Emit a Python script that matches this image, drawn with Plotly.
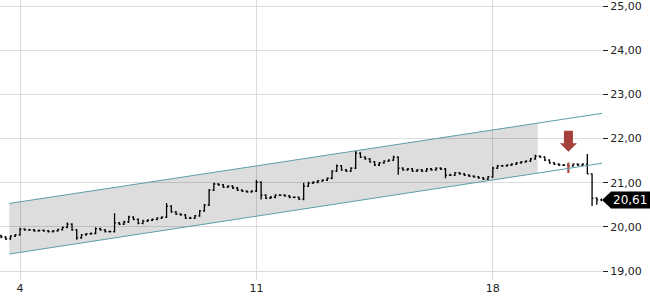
import plotly.graph_objects as go

# ---- data ----
tick_vals = [4, 54, 104]
tick_text = ["4", "11", "18"]

open_ = [19.80,19.77,19.73,19.79,19.82,19.95,19.93,19.93,19.91,19.92,
         19.91,19.89,19.91,19.94,19.99,20.06,19.93,19.75,19.82,19.84,
         19.85,19.96,19.93,19.89,19.89,20.09,20.06,20.11,20.22,20.17,
         20.08,20.13,20.15,20.17,20.20,20.22,20.47,20.34,20.29,20.27,
         20.20,20.20,20.25,20.36,20.49,20.83,20.97,20.95,20.90,20.92,
         20.88,20.83,20.81,20.79,20.81,21.01,20.72,20.65,20.67,20.72,
         20.72,20.70,20.67,20.67,20.63,20.92,20.99,21.01,21.04,21.06,
         21.10,21.26,21.38,21.29,21.26,21.33,21.67,21.58,21.54,21.47,
         21.40,21.45,21.49,21.51,21.58,21.33,21.29,21.31,21.26,21.29,
         21.26,21.31,21.29,21.33,21.31,21.17,21.17,21.22,21.20,21.17,
         21.15,21.13,21.11,21.08,21.13,21.33,21.38,21.38,21.40,21.42,
         21.45,21.47,21.49,21.54,21.60,21.58,21.51,21.45,21.42,21.40,
         21.40,21.38,21.42,21.40,21.42,21.20,20.65,20.61]
close = [19.77,19.73,19.79,19.82,19.95,19.93,19.93,19.91,19.92,19.91,
         19.89,19.91,19.94,19.99,20.06,19.93,19.75,19.82,19.84,19.85,
         19.96,19.93,19.89,19.89,20.09,20.06,20.11,20.22,20.17,20.08,
         20.13,20.15,20.17,20.20,20.22,20.47,20.34,20.29,20.27,20.20,
         20.20,20.25,20.36,20.49,20.83,20.97,20.95,20.90,20.92,20.88,
         20.83,20.81,20.79,20.81,21.01,20.72,20.65,20.67,20.72,20.72,
         20.70,20.67,20.67,20.63,20.92,20.99,21.01,21.04,21.06,21.10,
         21.26,21.38,21.29,21.26,21.33,21.67,21.58,21.54,21.47,21.40,
         21.45,21.49,21.51,21.58,21.33,21.29,21.31,21.26,21.29,21.26,
         21.31,21.29,21.33,21.31,21.17,21.17,21.22,21.20,21.17,21.15,
         21.13,21.11,21.08,21.13,21.33,21.38,21.38,21.40,21.42,21.45,
         21.47,21.49,21.54,21.60,21.58,21.51,21.45,21.42,21.40,21.40,
         21.38,21.42,21.40,21.42,21.20,20.65,20.61,20.61]
high = [19.82,19.79,19.81,19.84,19.98,19.97,19.95,19.95,19.94,19.94,
        19.93,19.93,19.96,20.01,20.10,20.08,19.95,19.84,19.86,19.87,
        19.99,19.98,19.95,19.92,20.31,20.11,20.14,20.25,20.24,20.19,
        20.16,20.17,20.19,20.22,20.24,20.54,20.49,20.36,20.31,20.29,
        20.23,20.27,20.38,20.52,20.86,21.00,20.99,20.97,20.94,20.94,
        20.90,20.85,20.83,20.83,21.06,21.03,20.74,20.70,20.74,20.74,
        20.74,20.72,20.69,20.69,21.00,21.02,21.03,21.06,21.08,21.12,
        21.28,21.41,21.40,21.31,21.35,21.72,21.69,21.60,21.56,21.49,
        21.47,21.51,21.53,21.61,21.60,21.35,21.33,21.33,21.31,21.31,
        21.33,21.33,21.35,21.35,21.33,21.20,21.24,21.24,21.22,21.19,
        21.17,21.15,21.13,21.15,21.36,21.40,21.40,21.42,21.44,21.47,
        21.49,21.51,21.56,21.63,21.62,21.60,21.53,21.47,21.44,21.42,
        21.45,21.44,21.44,21.44,21.65,21.21,20.67,20.64]
low = [19.74,19.70,19.71,19.77,19.80,19.91,19.91,19.89,19.89,19.89,
       19.87,19.87,19.89,19.92,19.97,19.91,19.71,19.73,19.80,19.82,
       19.83,19.91,19.87,19.87,19.87,20.04,20.04,20.09,20.15,20.06,
       20.06,20.11,20.13,20.15,20.18,20.20,20.32,20.27,20.25,20.18,
       20.18,20.18,20.23,20.34,20.47,20.81,20.93,20.88,20.88,20.86,
       20.81,20.79,20.77,20.77,20.79,20.62,20.63,20.63,20.65,20.70,
       20.68,20.65,20.65,20.61,20.60,20.90,20.97,20.99,21.02,21.04,
       21.08,21.24,21.27,21.24,21.24,21.31,21.56,21.52,21.45,21.38,
       21.38,21.43,21.47,21.49,21.18,21.27,21.27,21.24,21.24,21.24,
       21.24,21.27,21.27,21.29,21.10,21.15,21.15,21.18,21.15,21.13,
       21.11,21.09,21.06,21.06,21.11,21.31,21.36,21.36,21.38,21.40,
       21.43,21.45,21.47,21.52,21.56,21.49,21.43,21.40,21.38,21.38,
       21.22,21.36,21.38,21.38,21.19,20.47,20.50,20.58]
bar_idx = list(range(len(close)))

signal_idx = 120          # highlighted (red) bar with sell arrow

chan_x = [1.74, 113.5, 127.1]
chan_upper = [20.53, 22.35, 22.57]
chan_lower = [19.385, 21.22, 21.44]

# ---- figure ----
fig = go.Figure()

fig.add_trace(go.Scatter(
    x=[chan_x[0], chan_x[1], chan_x[1], chan_x[0], chan_x[0]],
    y=[chan_upper[0], chan_upper[1], chan_lower[1], chan_lower[0], chan_upper[0]],
    fill="toself", fillcolor="rgba(0,0,0,0.135)", mode="none",
    hoverinfo="skip", showlegend=False))

fig.add_trace(go.Scatter(x=chan_x, y=chan_upper, mode="lines",
                         line=dict(color="#5a9fa6", width=1),
                         hoverinfo="skip", showlegend=False))
fig.add_trace(go.Scatter(x=chan_x, y=chan_lower, mode="lines",
                         line=dict(color="#5a9fa6", width=1),
                         hoverinfo="skip", showlegend=False))

fig.add_trace(go.Ohlc(
    x=bar_idx, open=open_, high=high, low=low, close=close,
    increasing=dict(line=dict(color="#000000", width=1.3)),
    decreasing=dict(line=dict(color="#000000", width=1.3)),
    tickwidth=0.3, showlegend=False))

s = signal_idx
fig.add_trace(go.Ohlc(
    x=[s], open=[open_[s]], high=[high[s]], low=[low[s]], close=[close[s]],
    increasing=dict(line=dict(color="#b04a42", width=2)),
    decreasing=dict(line=dict(color="#b04a42", width=2)),
    tickwidth=0.25, showlegend=False))

# sell arrow above the signal bar
fig.add_shape(type="path", xref="x", yref="y",
              xsizemode="pixel", ysizemode="pixel",
              xanchor=s, yanchor=high[s],
              path="M 0 11 L -8.5 19.5 L -4.5 19.5 L -4.5 32 L 4.5 32 L 4.5 19.5 L 8.5 19.5 Z",
              fillcolor="#a5413a", line=dict(width=0))

# last price tag
last = close[-1]
fig.add_shape(type="path", xref="paper", yref="y",
              xsizemode="pixel", ysizemode="pixel",
              xanchor=1, yanchor=last,
              path="M 0 0 L 9 8.5 L 60 8.5 L 60 -8.5 L 9 -8.5 Z",
              fillcolor="#000000", line=dict(width=0), layer="above")
fig.add_annotation(xref="paper", yref="y", x=1, y=last,
                   text=f"{last:.2f}".replace(".", ","),
                   showarrow=False, xanchor="left", yanchor="middle",
                   xshift=9, font=dict(color="#ffffff", size=12,
                                       family="DejaVu Sans"))

fig.update_layout(
    width=650, height=300,
    margin=dict(l=0, r=48, t=0, b=20),
    paper_bgcolor="white", plot_bgcolor="white",
    separators=",.",
    font=dict(family="DejaVu Sans", size=11, color="#222222"),
    showlegend=False,
    xaxis=dict(range=[-0.23, 127.1], tickvals=tick_vals, ticktext=tick_text,
               showgrid=True, gridcolor="#dcdcdc", gridwidth=1,
               zeroline=False, showline=False, ticks="",
               rangeslider=dict(visible=False)),
    yaxis=dict(range=[18.797, 25.136], side="right", dtick=1, tick0=19,
               tickformat=".2f", showgrid=True, gridcolor="#dcdcdc",
               gridwidth=1, zeroline=False, showline=False,
               ticks="outside", ticklen=5, tickcolor="#222222",
               ticklabeloverflow="allow"),
)

fig.write_html("out.html")
